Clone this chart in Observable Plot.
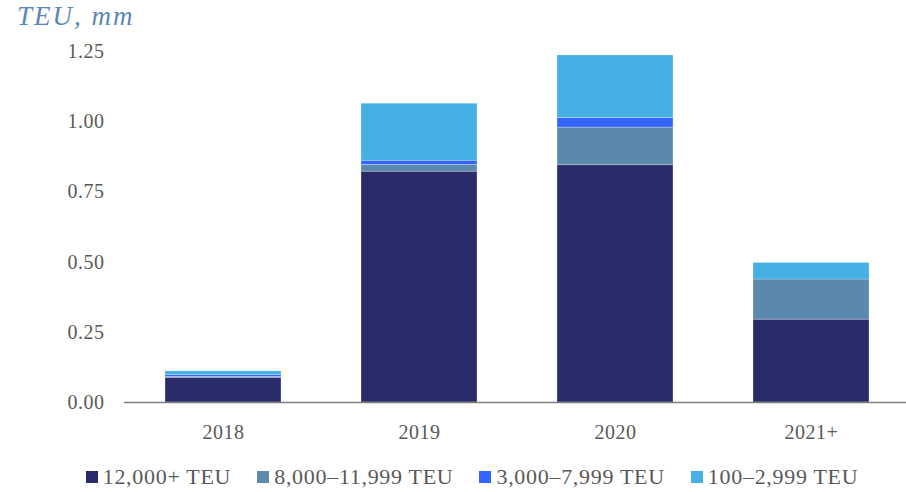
<!DOCTYPE html>
<html>
<head>
<meta charset="utf-8">
<script src="https://cdn.jsdelivr.net/npm/d3@7"></script>
<script src="https://cdn.jsdelivr.net/npm/@observablehq/plot@0.6"></script>
<style>
  html, body { margin: 0; padding: 0; background: #fff; }
  #wrap { position: relative; width: 906px; height: 492px; font-family: "Liberation Serif", serif; }
  #title { position: absolute; left: 17px; top: 1px; font-style: italic; font-size: 27px; letter-spacing: 2px; color: #5b87b4; line-height: 30px; font-family: "Liberation Serif", serif; }
  #chart svg text { font-family: "Liberation Serif", serif !important; letter-spacing: 0.5px; }
  #legend { position: absolute; left: 38px; top: 460px; width: 868px; display: flex; justify-content: center; }
  #legend, #legend * { font-family: "Liberation Serif", serif !important; font-size: 22px !important; color: #595959 !important; letter-spacing: 0.7px; }
  #legend .lg-swatches-wrap { justify-content: center; }
  #legend .lg-swatch { margin-right: 26px !important; }
  #legend .lg-swatch:last-child { margin-right: 0 !important; }
  #legend .lg-swatch svg { margin-right: 5px !important; }
</style>
</head>
<body>
<div id="wrap">
  <div id="chart"></div>
  <div id="title">TEU, mm</div>
  <div id="legend"></div>
</div>
<script>
const years = ["2018", "2019", "2020", "2021+"];
const seriesNames = ["12,000+ TEU", "8,000–11,999 TEU", "3,000–7,999 TEU", "100–2,999 TEU"];
const seriesColors = ["#2a2c69", "#5b89ae", "#3366ff", "#45b0e3"];
const v12000 = [0.088, 0.822, 0.845, 0.295];
const v8000  = [0.003, 0.024, 0.134, 0.143];
const v3000  = [0.007, 0.015, 0.034, 0.000];
const v100   = [0.013, 0.203, 0.223, 0.059];
const yTicks = [0, 0.25, 0.5, 0.75, 1.0, 1.25];

const seriesValues = [v12000, v8000, v3000, v100];
const data = [];
years.forEach((yr, i) => {
  seriesNames.forEach((s, j) => {
    data.push({year: yr, series: s, value: seriesValues[j][i]});
  });
});

const textColor = "#595959";
const chart = Plot.plot({
  width: 906,
  height: 450,
  marginTop: 51,
  marginBottom: 48,
  marginLeft: 124,
  marginRight: 0,
  style: {fontFamily: "'Liberation Serif', serif", fontSize: "20px", color: textColor, background: "white"},
  x: {domain: years, range: [123, 910], paddingInner: 0.41, paddingOuter: 0.203, align: 0.5, label: null},
  y: {domain: [0, 1.25], label: null},
  color: {domain: seriesNames, range: seriesColors},
  marks: [
    Plot.barY(data, Plot.stackY({
      x: "year", y: "value", fill: "series", order: seriesNames,
      stroke: "#ffffff", strokeOpacity: 0.35, strokeWidth: 0.75
    })),
    Plot.ruleY([0], {stroke: "#7f7f7f", strokeWidth: 1.3}),
    Plot.ruleX([0], {frameAnchor: "left", y1: 0, y2: 1.25, stroke: "#7f7f7f", strokeWidth: 1.3}),
    Plot.axisY({ticks: yTicks, tickFormat: d3.format(".2f"), tickSize: 0, tickPadding: 20, label: null, fill: textColor, fontSize: 20}),
    Plot.axisX({tickSize: 0, tickPadding: 22, label: null, fill: textColor, fontSize: 20})
  ]
});
document.getElementById("chart").appendChild(chart);

const legend = Plot.legend({
  color: {domain: seriesNames, range: seriesColors},
  legend: "swatches",
  swatchSize: 12,
  className: "lg"
});
document.getElementById("legend").appendChild(legend);
</script>
</body>
</html>
